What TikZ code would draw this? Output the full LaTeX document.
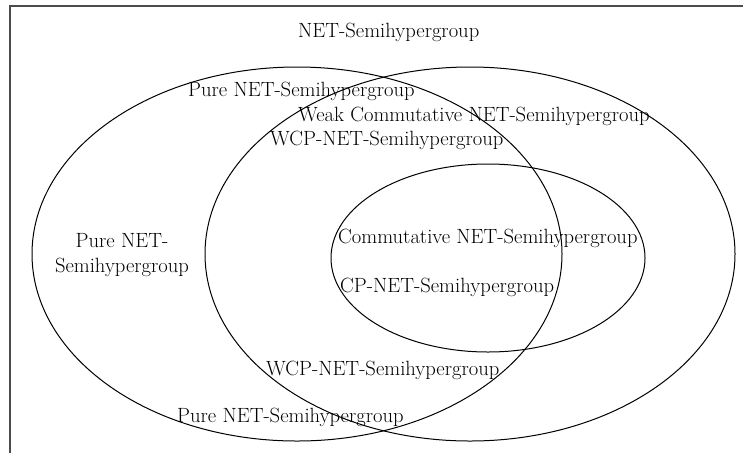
\documentclass[tikz,border=0pt]{standalone}
\usepackage{tikz}
\usetikzlibrary{positioning}
\begin{document}
\begin{tikzpicture}[x=1pt, y=-1pt,
  set/.style={line width=1pt},
  lbl/.style={inner sep=0pt, anchor=base west, font=\fontsize{20.6}{24}\selectfont}]
\useasboundingbox (0,0) rectangle (743,453);
\draw [line width=1.7pt, black!70] (743,6) -- (10,6) -- (10,453);
% the three sets
\draw [set] (297,254) ellipse [x radius=265, y radius=187];
\draw [set] (470,254) ellipse [x radius=265, y radius=187];
\draw [set] (488,258) ellipse [x radius=157, y radius=94];
\node [lbl] (net) at (298,37) {NET-Semihypergroup};
\node [lbl] (pure1) at (188,96) {Pure NET-Semihypergroup};
\node [lbl] (weak) at (298,121) {Weak Commutative NET-Semihypergroup};
\node [lbl] (wcp1) at (270,145) {WCP-NET-Semihypergroup};
\node [lbl, anchor=base] (pure2) at (122,247) {Pure NET-};
\node [lbl, anchor=base] (pure3) at (122,272) {Semihypergroup};
\node [lbl] (comm) at (338,243) {Commutative NET-Semihypergroup};
\node [lbl] (cp) at (340,292) {CP-NET-Semihypergroup};
\node [lbl] (wcp2) at (266,375) {WCP-NET-Semihypergroup};
\node [lbl] (pure4) at (177,422) {Pure NET-Semihypergroup};
\end{tikzpicture}
\end{document}
